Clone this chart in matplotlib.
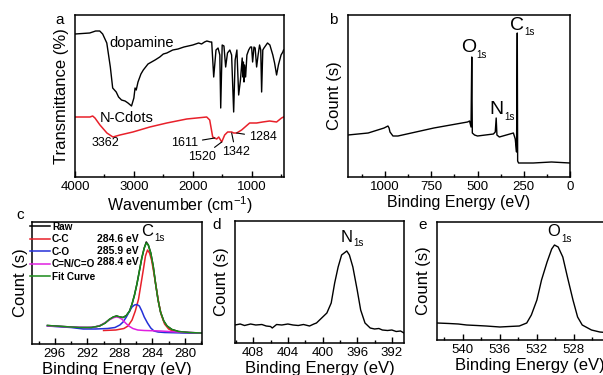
import matplotlib

matplotlib.use("Agg")
import matplotlib.pyplot as plt
from matplotlib.ticker import MultipleLocator, FixedLocator

plt.rcParams["font.family"] = ["Liberation Sans", "DejaVu Sans"]
plt.rcParams["mathtext.default"] = "regular"

W, H = 603, 375

# ---- panel a: FTIR (transmittance, arbitrary units) ----
dopamine_wn = [4000, 3750, 3650, 3580, 3530, 3460, 3400, 3360, 3330, 3300, 3260, 3210,
               3150, 3100, 3040, 3000, 2980, 2960, 2930, 2880, 2840, 2760, 2700, 2640,
               2560, 2500, 2440, 2340, 2250, 2150, 2000, 1900, 1850, 1800, 1760, 1700,
               1678, 1644, 1605, 1570, 1540, 1525, 1500, 1470, 1441, 1410, 1370, 1340,
               1305, 1280, 1250, 1220, 1190, 1160, 1150, 1140, 1130, 1120, 1102, 1080,
               1050, 1020, 1000, 983, 960, 940, 915, 890, 865, 845, 830, 810, 790, 730,
               690, 640, 610, 576, 545, 500, 470, 458]
dopamine_t = [143, 144, 146, 146, 143, 134, 110, 89, 87, 85, 80, 77,
              76, 74, 71, 79, 89, 87, 95, 103, 107, 113, 115, 117,
              120, 123, 124, 127, 128, 130, 132, 134, 133, 135, 136, 135,
              135, 100, 127, 129, 122, 69, 132, 131, 110, 124, 127, 122,
              65, 117, 127, 82, 97, 119, 100, 115, 95, 112, 100, 122,
              127, 130, 130, 115, 130, 129, 110, 122, 132, 127, 85, 127, 129, 134,
              132, 122, 114, 102, 112, 122, 125, 127]
ncdots_wn = [4000, 3746, 3700, 3661, 3576, 3458, 3356, 3237, 3017, 2729, 2441, 2102,
             1763, 1712, 1661, 1627, 1593, 1559, 1508, 1458, 1407, 1339, 1305, 1254,
             1170, 1034, 915, 813, 695, 576, 492, 458]
ncdots_t = [60, 60, 61, 59, 52, 44, 40, 42, 45, 50, 54, 58,
            60, 57, 40, 39, 38, 40, 35, 42, 45, 45, 44, 44,
            47, 54, 54, 55, 56, 55, 59, 60]
ir_peaks = ["3362", "1611", "1520", "1342", "1284"]

# ---- panel b: XPS survey ----
survey_e = [1200, 1091, 1005, 984, 978, 973, 957, 930, 736, 554, 543, 535, 531, 528,
            516, 500, 414, 404, 399, 395, 382, 306, 296, 289, 285, 283, 278, 199, 100, 0]
survey_c = [42, 44, 49, 51, 49, 45, 41, 41, 49, 55, 56, 50, 120, 44,
            42, 41, 43, 45, 59, 42, 40, 44, 38, 25, 144, 16, 14, 14, 15, 14]

# ---- panel c: C1s high resolution ----
c1s_e = [296.9, 295.0, 293.0, 291.5, 290.5, 289.8, 289.3, 288.8, 288.4, 288.0, 287.6,
         287.2, 286.8, 286.5, 286.2, 285.9, 285.6, 285.3, 285.0, 284.75, 284.5, 284.2,
         283.9, 283.6, 283.3, 283.0, 282.6, 282.2, 281.6, 280.8, 279.5, 278.0]
c1s_raw = [18.5, 17.5, 16.5, 16.5, 18, 21, 24.5, 27, 28, 27, 26.5,
           28.5, 33, 40, 49, 60, 73, 86, 96, 102, 99, 91,
           78, 60, 44, 32, 23, 18, 14.5, 12.5, 11.5, 11]
c1s_fit = [18.5, 17.5, 16.5, 16.5, 18, 21, 24.5, 27, 28, 27, 26.5,
           28.5, 33, 40, 49, 60, 73, 86, 96, 101, 99, 91,
           78, 60, 44, 32, 23, 18, 14.5, 12.5, 11.5, 11]
cc_e = [290.0, 288.5, 287.5, 287.0, 286.5, 286.1, 285.7, 285.4, 285.1, 284.85, 284.6,
        284.35, 284.1, 283.8, 283.5, 283.2, 282.9, 282.5, 282.0, 281.5, 280.5, 278.0]
cc_c = [13.5, 14, 15.5, 18, 24, 33, 45, 60, 75, 88, 94,
        91, 84, 70, 55, 40, 29, 20, 15, 13, 11.5, 11]
co_e = [296.9, 294.0, 292.5, 291.0, 289.5, 288.6, 288.0, 287.6, 287.2, 286.8, 286.5,
        286.2, 285.9, 285.6, 285.3, 285.0, 284.6, 284.2, 283.8, 283.3, 282.5, 280.0, 278.0]
co_c = [18, 16.5, 15, 15, 15.5, 16.5, 19, 22, 27, 33, 37,
        39, 39.5, 38, 33, 27, 21, 16, 13, 12, 11.5, 11, 11]
cn_e = [296.9, 294.0, 292.0, 291.0, 290.3, 289.7, 289.1, 288.7, 288.4, 288.1, 287.7,
        287.3, 286.9, 286.4, 285.8, 285.0, 283.0, 281.0, 278.0]
cn_c = [18, 17, 16.5, 17, 19, 22, 25, 26.5, 27, 26.5, 24.5,
        21, 18, 15.5, 14, 13.5, 13, 12, 11]
legend_labels = ["Raw", "C-C", "C-O", "C=N/C=O", "Fit Curve"]
legend_colors = ["black", "#e8202a", "#2430d8", "#e020e0", "#1a8a1a"]
fit_energies = ["284.6 eV", "285.9 eV", "288.4 eV"]

# ---- panel d: N1s ----
n1s_e = [410.1, 409.5, 409.0, 408.3, 407.7, 407.0, 406.5, 406.0, 405.8, 405.3, 404.7,
         404.0, 403.4, 402.8, 402.2, 401.5, 401.0, 400.7, 400.1, 399.5, 399.0, 398.6,
         398.2, 397.8, 397.5, 397.2, 396.9, 396.5, 396.0, 395.6, 395.1, 394.5, 394.0,
         393.5, 393.1, 392.5, 392.0, 391.5, 391.0, 390.6]
n1s_c = [18, 19, 17.5, 19, 18, 18.5, 17, 16.5, 15, 18.5, 18,
         19, 18, 17.5, 18.5, 17, 19, 20, 25, 30, 40, 60,
         76, 88, 90, 92, 88, 76, 53, 33, 20, 15, 14,
         14.5, 13, 12.5, 13, 11.5, 12, 10]

# ---- panel e: O1s ----
o1s_e = [542.8, 541.5, 540.5, 539.6, 538.5, 537.5, 536.0, 535.0, 533.9, 533.1, 532.6,
         532.0, 531.5, 530.9, 530.4, 530.1, 529.7, 529.2, 528.7, 528.1, 527.6, 527.1,
         526.1, 525.2, 524.0]
o1s_c = [17, 16.5, 16, 15, 14.5, 14, 13, 13.5, 14, 17, 25,
         40, 60, 78, 91, 95, 93, 83, 63, 40, 23, 15,
         10, 8, 7]


def px_axes(fig, left, top, right, bottom):
    return fig.add_axes([left / W, 1 - bottom / H, (right - left) / W, (bottom - top) / H])


def style(ax, major, minor, xlim, ylim, xlabel, xsize=11.5):
    ax.set_xlim(xlim)
    ax.set_ylim(ylim)
    ax.xaxis.set_major_locator(MultipleLocator(major))
    ax.xaxis.set_minor_locator(MultipleLocator(minor))
    ax.tick_params(axis="x", which="both", direction="in", top=False, labelsize=9.5, pad=3)
    ax.tick_params(axis="x", which="major", length=4, width=1)
    ax.tick_params(axis="x", which="minor", length=2.5, width=1)
    ax.tick_params(axis="y", which="both", left=False, right=False, labelleft=False)
    for s in ax.spines.values():
        s.set_linewidth(1.1)
    ax.set_xlabel(xlabel, fontsize=xsize, labelpad=1)
    ax.set_ylabel("Count (s)", fontsize=12, labelpad=4)


def core_label(ax, x, y, letter, size, dx=10, dy=6):
    # element letter with a small "1s" subscript, offset in pixels
    ax.text(x, y, letter, fontsize=size, ha="center", va="center")
    ax.annotate("1s", xy=(x, y), xytext=(dx * 0.72, -dy * 0.72), textcoords="offset points",
                fontsize=7, ha="center", va="center")


fig = plt.figure(figsize=(W / 100, H / 100), dpi=100)

# a
ax = px_axes(fig, 75, 15, 284, 177)
ax.plot(dopamine_wn, dopamine_t, color="black", lw=1.0)
ax.plot(ncdots_wn, ncdots_t, color="#e8202a", lw=1.1)
style(ax, 1000, 500, (4000, 450), (0, 162), "Wavenumber (cm$^{-1}$)")
ax.set_ylabel("Transmittance (%)", fontsize=12, labelpad=4)
ax.text(2864, 134, "dopamine", fontsize=10.5, ha="center", va="center")
ax.text(3119, 59, "N-Cdots", fontsize=10.5, ha="center", va="center")
ax.text(3475, 34, ir_peaks[0], fontsize=9, ha="center", va="center")
arrow = dict(arrowstyle="-", lw=0.8, color="black", shrinkA=1, shrinkB=0)
ax.annotate(ir_peaks[1], xy=(1627, 39), xytext=(2136, 34), fontsize=9,
            ha="center", va="center", arrowprops=arrow)
ax.annotate(ir_peaks[2], xy=(1508, 35), xytext=(1847, 20), fontsize=9,
            ha="center", va="center", arrowprops=arrow)
ax.annotate(ir_peaks[3], xy=(1339, 44), xytext=(1271, 25), fontsize=9,
            ha="center", va="center", arrowprops=arrow)
ax.annotate(ir_peaks[4], xy=(1254, 44), xytext=(814, 40), fontsize=9,
            ha="center", va="center", arrowprops=arrow)
fig.text(60 / W, 1 - 20 / H, "a", fontsize=11, ha="center", va="center")

# b
ax = px_axes(fig, 348, 15, 570, 177)
ax.plot(survey_e, survey_c, color="black", lw=1.0)
style(ax, 250, 125, (1200, 0), (0, 162), "Binding Energy (eV)")
core_label(ax, 546, 129, "O", 14, 12.5, 7)
core_label(ax, 395, 67, "N", 14, 12.5, 7)
core_label(ax, 286, 151, "C", 14, 12, 6)
fig.text(333 / W, 1 - 20 / H, "b", fontsize=11, ha="center", va="center")

# c
ax = px_axes(fig, 32, 222, 202, 344)
for e_vals, c_vals, col in [(c1s_e, c1s_raw, legend_colors[0]), (cc_e, cc_c, legend_colors[1]),
                            (co_e, co_c, legend_colors[2]), (cn_e, cn_c, legend_colors[3]),
                            (c1s_e, c1s_fit, legend_colors[4])]:
    ax.plot(e_vals, c_vals, color=col, lw=1.1)
style(ax, 4, 2, (298.8, 277.9), (0, 122), "Binding Energy (eV)", xsize=12)
ax.set_ylabel("Count (s)", fontsize=12, labelpad=3)
handles = [plt.Line2D([], [], color=c, lw=1.1) for c in legend_colors]
ax.legend(handles, legend_labels, loc="upper left", bbox_to_anchor=(-0.015, 1.01),
          frameon=False, borderaxespad=0, borderpad=0.1, handlelength=2.0,
          handletextpad=0.15, labelspacing=0.25, prop={"weight": "bold", "size": 7.2})
for i, txt in enumerate(fit_energies):
    ax.text(0.385, 0.861 - i * 0.095, txt, fontsize=7.5, fontweight="bold",
            ha="left", va="center", transform=ax.transAxes)
core_label(ax, 284.6, 112, "C", 12, 11.5, 6)
fig.text(20 / W, 1 - 215 / H, "c", fontsize=11, ha="center", va="center")

# d
ax = px_axes(fig, 235, 221, 404, 343)
ax.plot(n1s_e, n1s_c, color="black", lw=1.0)
style(ax, 4, 2, (410.1, 390.6), (0, 122), "Binding Energy (eV)", xsize=12)
core_label(ax, 397.2, 106, "N", 12, 12, 6)
fig.text(217 / W, 1 - 225 / H, "d", fontsize=11, ha="center", va="center")

# e
ax = px_axes(fig, 437, 222, 622, 340)
ax.plot(o1s_e, o1s_c, color="black", lw=1.0)
style(ax, 4, 2, (542.8, 522.8), (0, 118), "Binding Energy (eV)", xsize=12)
ax.xaxis.set_major_locator(FixedLocator([540, 536, 532, 528]))
core_label(ax, 530.2, 108, "O", 12, 12.5, 7)
fig.text(423 / W, 1 - 225 / H, "e", fontsize=11, ha="center", va="center")

fig.savefig("out.png", dpi=100)
